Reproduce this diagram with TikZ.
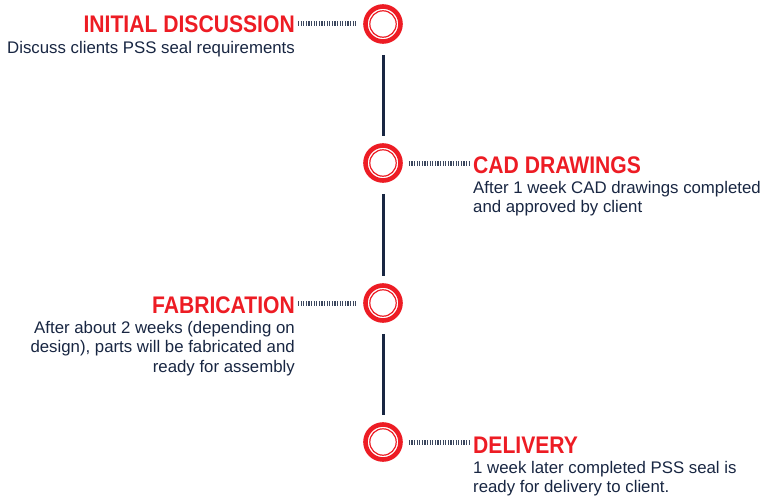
\documentclass[tikz,border=0pt]{standalone}
\usepackage{fontspec}
\setmainfont{Liberation Sans}
\newfontfamily\headfont[FakeStretch=0.88]{Liberation Sans}
\usetikzlibrary{positioning}
\definecolor{stepred}{RGB}{237,28,36}
\definecolor{navy}{RGB}{24,38,66}

\begin{document}
\begin{tikzpicture}[x=1pt,y=-1pt,
  ring/.style={circle,draw=stepred,line width=4.6pt,minimum size=35pt,inner sep=0pt,fill=white,
    path picture={\draw[stepred,line width=1.2pt] (path picture bounding box.center) circle (13.2pt);}},
  title/.style={inner sep=0pt,text=stepred,font=\headfont\bfseries\fontsize{24}{28}\selectfont},
  note/.style={inner sep=0pt,text=navy,font=\fontsize{16.8}{19.8}\selectfont},
  ticks/.style={navy!85,line width=5pt,dash pattern=on 1.2pt off 1.4pt},
  spine/.style={navy,line width=3pt,shorten <=11pt,shorten >=7pt}]
\useasboundingbox (0,0) rectangle (768,500);

% milestones
\node[ring] (c1) at (383,24)  {};
\node[ring] (c2) at (383,163) {};
\node[ring] (c3) at (383,303) {};
\node[ring] (c4) at (383,442) {};

% left side
\node[title,anchor=base east] (t1) at (295,33) {INITIAL DISCUSSION};
\node[note,below=7.7pt of t1.base east,anchor=north east,align=right] (n1) {Discuss clients PSS seal requirements};
\node[title,anchor=base east] (t3) at (295,313) {FABRICATION};
\node[note,below=7.7pt of t3.base east,anchor=north east,align=right] (n3)
  {After about 2 weeks (depending on\\design), parts will be fabricated and\\ready for assembly};

% right side
\node[title,anchor=base west] (t2) at (473,173) {CAD DRAWINGS};
\node[note,below=7.7pt of t2.base west,anchor=north west,align=left] (n2)
  {After 1 week CAD drawings completed\\and approved by client};
\node[title,anchor=base west] (t4) at (473,453) {DELIVERY};
\node[note,below=7.7pt of t4.base west,anchor=north west,align=left] (n4)
  {1 week later completed PSS seal is\\ready for delivery to client.};

% connectors
\draw[ticks,shorten <=3pt,shorten >=6pt] (t1.east |- c1) -- (c1);
\draw[ticks,shorten <=3pt,shorten >=6pt] (t3.east |- c3) -- (c3);
\draw[ticks,shorten <=6pt,shorten >=4pt] (c2) -- (t2.west |- c2);
\draw[ticks,shorten <=6pt,shorten >=4pt] (c4) -- (t4.west |- c4);

\draw[spine] (c1) -- (c2);
\draw[spine] (c2) -- (c3);
\draw[spine] (c3) -- (c4);
\end{tikzpicture}
\end{document}
